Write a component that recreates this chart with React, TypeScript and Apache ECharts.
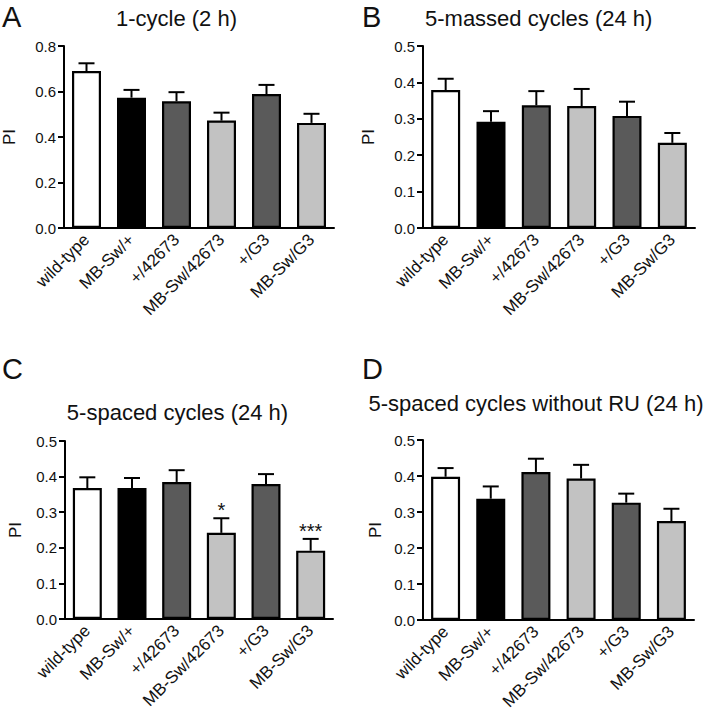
import React, { useEffect, useRef } from "react";
import * as echarts from "echarts";

const categories = ["wild-type", "MB-Sw/+", "+/42673", "MB-Sw/42673", "+/G3", "MB-Sw/G3"];
const barColors = ["#ffffff", "#000000", "#5a5a5a", "#c2c2c2", "#5a5a5a", "#c2c2c2"];

const meansA = [0.69, 0.573, 0.557, 0.472, 0.589, 0.462];
const semA = [0.034, 0.034, 0.04, 0.035, 0.04, 0.04];
const meansB = [0.379, 0.292, 0.337, 0.335, 0.308, 0.234];
const semB = [0.031, 0.029, 0.039, 0.047, 0.039, 0.027];
const meansC = [0.368, 0.368, 0.385, 0.242, 0.379, 0.192];
const semC = [0.03, 0.028, 0.033, 0.041, 0.028, 0.033];
const meansD = [0.398, 0.337, 0.411, 0.393, 0.326, 0.275];
const semD = [0.024, 0.034, 0.037, 0.038, 0.025, 0.034];
const sigA = ["", "", "", "", "", ""];
const sigB = ["", "", "", "", "", ""];
const sigC = ["", "", "", "*", "", "***"];
const sigD = ["", "", "", "", "", ""];

const yMaxes = [0.8, 0.5, 0.5, 0.5];
const yIntervals = [0.2, 0.1, 0.1, 0.1];
const panelLetters = ["A", "B", "C", "D"];
const titles = ["1-cycle (2 h)", "5-massed cycles (24 h)", "5-spaced cycles (24 h)", "5-spaced cycles without RU (24 h)"];

const FONT = "'Liberation Sans', Arial, Helvetica, sans-serif";
const INK = "#111111";

export default function App() {
  const ref = useRef<HTMLDivElement>(null);
  useEffect(() => {
    if (!ref.current) return;
    const chart = echarts.init(ref.current, undefined, { renderer: "svg" });
    const grids = [
      { left: 61, top: 46, width: 273, height: 182 },
      { left: 423, top: 46, width: 272, height: 182 },
      { left: 65, top: 441, width: 268, height: 178 },
      { left: 423, top: 440, width: 271, height: 180 },
    ];
    const nameGaps = [46, 46, 41, 39];
    const means = [meansA, meansB, meansC, meansD];
    const sems = [semA, semB, semC, semD];
    const sigs = [sigA, sigB, sigC, sigD];

    const xAxis = grids.map((_, i) => ({
      type: "category",
      gridIndex: i,
      data: categories,
      axisLine: { lineStyle: { color: "#000", width: 2 } },
      axisTick: { alignWithLabel: true, length: 6, lineStyle: { color: "#000", width: 2 } },
      axisLabel: { rotate: 45, fontSize: 17, fontFamily: FONT, color: INK, margin: 9, interval: 0 },
    }));
    const yAxis = grids.map((_, i) => ({
      type: "value",
      gridIndex: i,
      min: 0,
      max: yMaxes[i],
      interval: yIntervals[i],
      name: "PI",
      nameLocation: "middle",
      nameGap: nameGaps[i],
      nameTextStyle: { fontSize: 17, fontFamily: FONT, color: INK },
      splitLine: { show: false },
      axisLine: { show: true, lineStyle: { color: "#000", width: 2 } },
      axisTick: { show: true, length: 6, lineStyle: { color: "#000", width: 2 } },
      axisLabel: { fontSize: 15, fontFamily: FONT, color: INK, margin: 8, formatter: (v: number) => v.toFixed(1) },
    }));

    const series: any[] = [];
    grids.forEach((_, i) => {
      series.push({
        type: "bar",
        xAxisIndex: i,
        yAxisIndex: i,
        barWidth: 29,
        data: means[i].map((v, j) => ({ value: v, itemStyle: { color: barColors[j] } })),
        itemStyle: { borderColor: "#000", borderWidth: 2.2 },
        z: 2,
      });
      const sig = sigs[i];
      series.push({
        type: "custom",
        xAxisIndex: i,
        yAxisIndex: i,
        z: 3,
        encode: { x: 0, y: 1 },
        data: means[i].map((v, j) => [j, v, sems[i][j]]),
        renderItem: (params: any, api: any) => {
          const x = api.value(0);
          const m = api.value(1);
          const s = api.value(2);
          const p0 = api.coord([x, m]);
          const p1 = api.coord([x, m + s]);
          const children: any[] = [
            { type: "line", shape: { x1: p0[0], y1: p0[1], x2: p1[0], y2: p1[1] }, style: { stroke: "#000", lineWidth: 2 } },
            { type: "line", shape: { x1: p1[0] - 8, y1: p1[1], x2: p1[0] + 8, y2: p1[1] }, style: { stroke: "#000", lineWidth: 2 } },
          ];
          const t = sig[params.dataIndex];
          if (t) {
            children.push({
              type: "text",
              x: p1[0],
              y: p1[1] - 18,
              style: { text: t, fontSize: 20, fontFamily: FONT, fill: INK, align: "center", verticalAlign: "top" },
            });
          }
          return { type: "group", children };
        },
      });
    });

    const letterPos = [
      [2, 17],
      [362, 17],
      [2, 369],
      [362, 369],
    ];
    const titlePos = [
      [176.5, 18],
      [538.7, 18],
      [177.5, 412],
      [536, 403],
    ];
    const graphic: any[] = [];
    panelLetters.forEach((l, i) => {
      graphic.push({
        type: "text",
        x: letterPos[i][0],
        y: letterPos[i][1],
        style: { text: l, fontSize: 29, fontFamily: FONT, fill: INK, align: "left", verticalAlign: "middle" },
      });
      graphic.push({
        type: "text",
        x: titlePos[i][0],
        y: titlePos[i][1],
        style: { text: titles[i], fontSize: 22, fontFamily: FONT, fill: INK, align: "center", verticalAlign: "middle" },
      });
    });

    chart.setOption({
      animation: false,
      backgroundColor: "#ffffff",
      grid: grids.map((g) => ({ ...g, containLabel: false })),
      xAxis,
      yAxis,
      series,
      graphic,
    });
    return () => chart.dispose();
  }, []);
  return <div ref={ref} style={{ position: "fixed", left: 0, top: 0, width: 704, height: 720 }} />;
}
